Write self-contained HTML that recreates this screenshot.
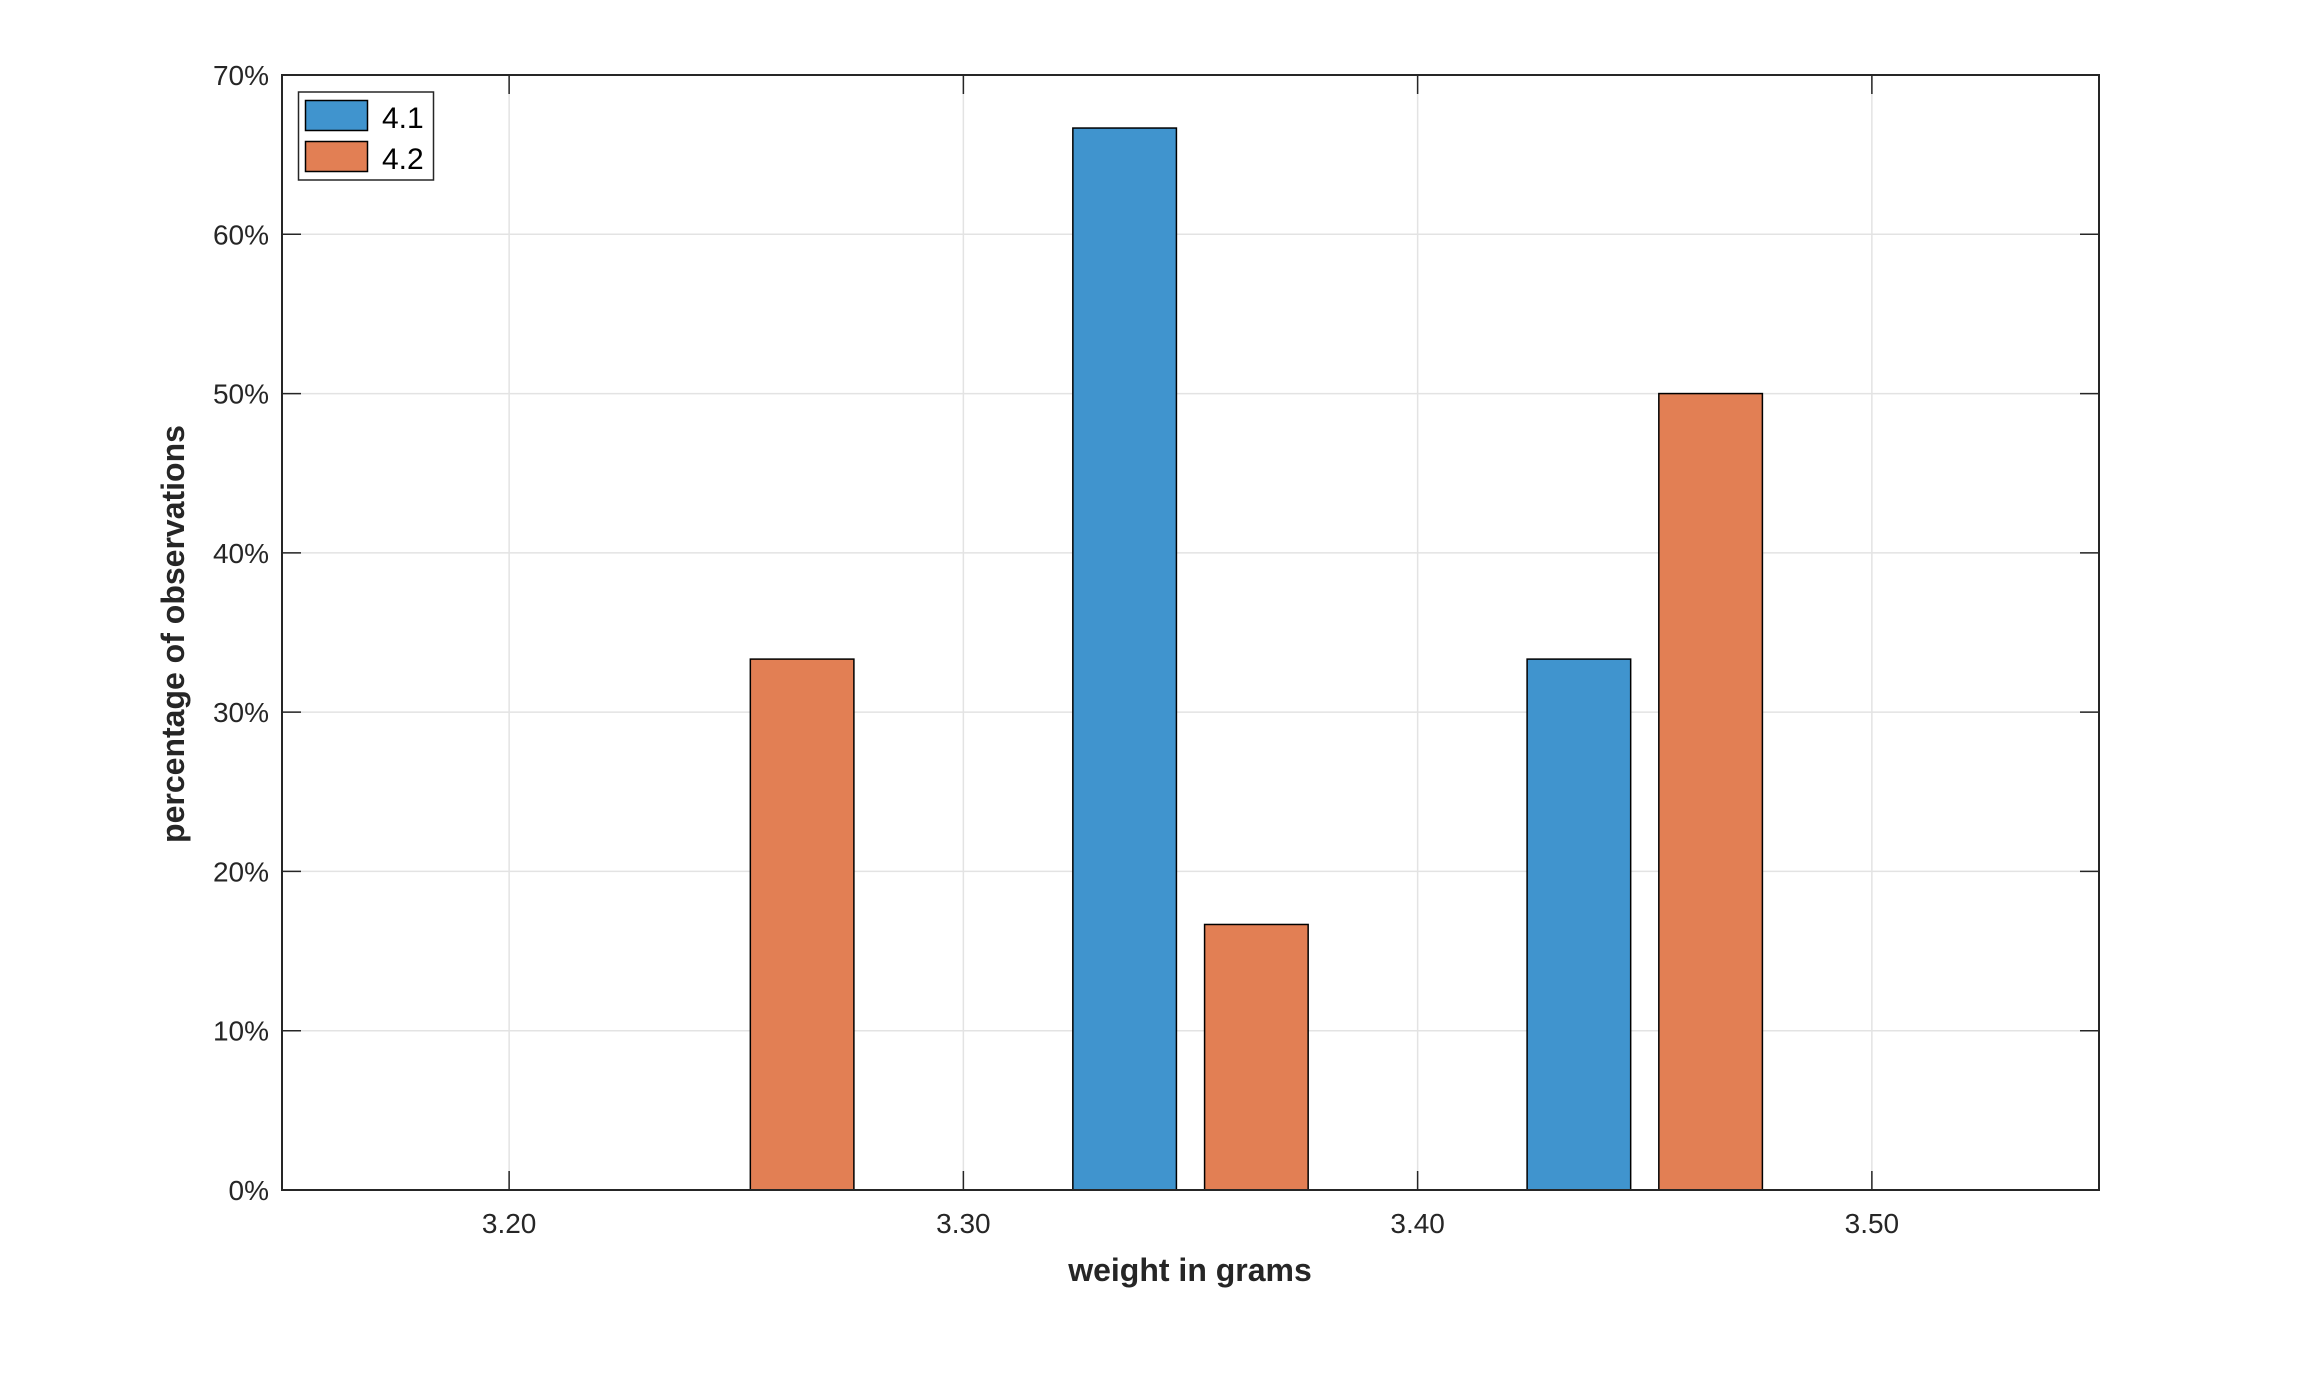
<!DOCTYPE html>
<html><head><meta charset="utf-8"><style>
html,body{margin:0;padding:0;background:#fff;}
svg{display:block;font-family:"Liberation Sans",sans-serif;}
</style></head><body>
<svg id="chart" width="2301" height="1382" viewBox="0 0 2301 1382" xmlns="http://www.w3.org/2000/svg">
<rect width="2301" height="1382" fill="#fff"/>
<g id="grid"></g>
<g id="bars"></g>
<g id="axes"></g>
<text x="1190" y="1281" text-anchor="middle" font-size="32" font-weight="bold" fill="#262626">weight in grams</text>
<text transform="translate(184,634) rotate(-90)" text-anchor="middle" font-size="32" font-weight="bold" fill="#262626">percentage of observations</text>
<g>
<rect x="298.5" y="92" width="135" height="88" fill="#fff" stroke="#262626" stroke-width="1.5"/>
<rect x="305.5" y="100.5" width="62" height="30" fill="#4094CE" stroke="#000" stroke-width="1.5"/>
<text x="382" y="128" font-size="30" fill="#000">4.1</text>
<rect x="305.5" y="141.5" width="62" height="30" fill="#E27F54" stroke="#000" stroke-width="1.5"/>
<text x="382" y="169" font-size="30" fill="#000">4.2</text>
</g>
<script>
const binCenters = [3.25, 3.35, 3.45];
const series41 = [0, 66.67, 33.33];
const series42 = [33.33, 16.67, 50];
const xTicks = [3.2, 3.3, 3.4, 3.5];
const xTickLabels = ["3.20", "3.30", "3.40", "3.50"];
const yTicks = [0, 10, 20, 30, 40, 50, 60, 70];
const yTickLabels = ["0%", "10%", "20%", "30%", "40%", "50%", "60%", "70%"];

const L = 282, R = 2099, T = 75, B = 1190;
const xMin = 3.15, xMax = 3.55, yMin = 0, yMax = 70;
const xs = v => L + (v - xMin) / (xMax - xMin) * (R - L);
const ys = v => B - (v - yMin) / (yMax - yMin) * (B - T);
const NS = "http://www.w3.org/2000/svg";
const grid = document.getElementById('grid');
const bars = document.getElementById('bars');
const axes = document.getElementById('axes');
function mk(tag, attrs, parent) {
  const e = document.createElementNS(NS, tag);
  for (const k in attrs) e.setAttribute(k, attrs[k]);
  parent.appendChild(e);
  return e;
}
xTicks.forEach((t, i) => {
  const x = xs(t);
  const g = mk('line', {x1: x, x2: x, y1: T, y2: B, stroke: '#e3e3e3', 'stroke-width': 1.5}, grid);
  
  
  const tk1 = mk('line', {x1: x, x2: x, y1: B, y2: B - 19, stroke: '#262626', 'stroke-width': 1.5}, axes);
  
  
  const tk2 = mk('line', {x1: x, x2: x, y1: T, y2: T + 19, stroke: '#262626', 'stroke-width': 1.5}, axes);
  
  
  const lb = mk('text', {x: x, y: 1233, 'text-anchor': 'middle', 'font-size': 28, fill: '#262626'}, axes);
  lb.textContent = xTickLabels[i];
  
  
});
yTicks.forEach((t, i) => {
  const y = ys(t);
  if (t > yMin && t < yMax) {
    const g = mk('line', {x1: L, x2: R, y1: y, y2: y, stroke: '#e3e3e3', 'stroke-width': 1.5}, grid);
    
    
  }
  const tk1 = mk('line', {x1: L, x2: L + 19, y1: y, y2: y, stroke: '#262626', 'stroke-width': 1.5}, axes);
  
  
  const tk2 = mk('line', {x1: R, x2: R - 19, y1: y, y2: y, stroke: '#262626', 'stroke-width': 1.5}, axes);
  
  
  const lb = mk('text', {x: 269, y: y + 10, 'text-anchor': 'end', 'font-size': 28, fill: '#262626'}, axes);
  lb.textContent = yTickLabels[i];
  
  
});
const barW = 0.0228, off = 0.0145;
function drawSeries(vals, dx, color, name) {
  binCenters.forEach((c, i) => {
    if (vals[i] <= 0) return;
    const x0 = xs(c + dx - barW / 2), x1 = xs(c + dx + barW / 2);
    const y = ys(vals[i]);
    const r = mk('rect', {x: x0, y: y, width: x1 - x0, height: ys(0) - y, fill: color, stroke: '#000', 'stroke-width': 1.5}, bars);
    
    
  });
}
drawSeries(series41, -off, '#4094CE', 'bar-4-1');
drawSeries(series42, off, '#E27F54', 'bar-4-2');
const box = mk('rect', {x: L, y: T, width: R - L, height: B - T, fill: 'none', stroke: '#262626', 'stroke-width': 2}, axes);


</script>
</svg>
</body></html>
